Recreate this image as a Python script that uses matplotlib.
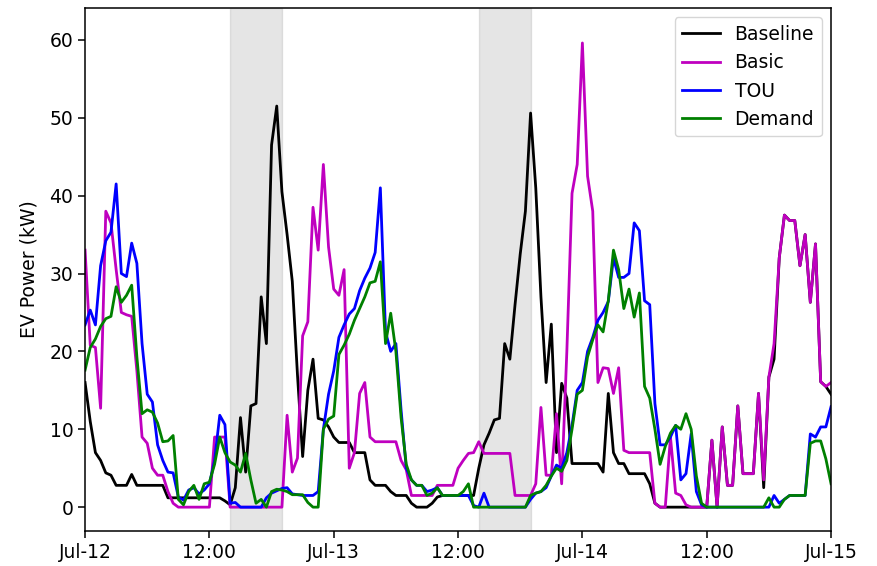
import matplotlib
matplotlib.use('Agg')
import matplotlib.pyplot as plt
import matplotlib.dates as mdates
import pandas as pd

# half-hourly EV charging power (kW), Jul-12 00:00 to Jul-15 00:00
times = pd.date_range('2018-07-12 00:00', '2018-07-15 00:00', freq='30min')

baseline = [16, 11, 7, 6, 4.4, 4.1, 2.8, 2.8, 2.8, 4.2, 2.8, 2.8,
            2.8, 2.8, 2.8, 2.8, 1.2, 1.2, 1.2, 1.2, 1.2, 1.2, 1.2, 1.2,
            1.2, 1.2, 1.2, 0.8, 0.3, 2.5, 11.5, 4.5, 13, 13.3, 27, 21,
            46.5, 51.5, 40.5, 35, 29, 17, 6.5, 15, 19, 11.4, 11.2, 10.3,
            9, 8.3, 8.3, 8.3, 7, 7, 7, 3.5, 2.8, 2.8, 2.8, 2,
            1.5, 1.5, 1.5, 0.5, 0, 0, 0, 0.5, 1.3, 1.5, 1.5, 1.5,
            1.5, 1.5, 1.5, 1.5, 5, 8, 9.5, 11.2, 11.4, 21, 19, 26,
            32.5, 38, 50.6, 41, 27, 16, 23.5, 7, 15.9, 14, 5.6, 5.6,
            5.6, 5.6, 5.6, 5.6, 4.5, 14.6, 7, 5.6, 5.6, 4.3, 4.3, 4.3,
            4.3, 3, 0.5, 0, 0, 0, 0, 0, 0, 0, 0, 0,
            0, 8.6, 0, 10.3, 2.8, 2.8, 13, 4.3, 4.3, 4.3, 14.6, 2.5,
            16.7, 19, 32, 37.5, 36.8, 36.8, 31, 35, 26.3, 33.8, 16.1, 15.5,
            14.5]

basic = [33, 20.8, 20.5, 12.7, 38, 36.5, 30.5, 25, 24.7, 24.5, 17.5, 9,
         8.2, 5, 4.1, 4.1, 2, 0.5, 0, 0, 0, 0, 0, 0,
         0, 9, 9, 9, 0, 0, 0, 0, 0, 0, 0, 0,
         0, 0, 0, 11.8, 4.5, 6.3, 22, 23.8, 38.5, 33, 44, 33.4,
         28, 27.2, 30.5, 5, 7, 14.6, 16, 9, 8.4, 8.4, 8.4, 8.4,
         8.4, 6, 4.8, 1.5, 1.5, 1.5, 1.5, 1.5, 2.8, 2.8, 2.8, 2.8,
         5, 6, 6.9, 7, 8.4, 6.9, 6.9, 6.9, 6.9, 6.9, 6.9, 1.5,
         1.5, 1.5, 1.5, 3, 12.8, 4.1, 4.1, 12, 3, 20, 40.3, 44,
         59.6, 42.5, 38, 16, 17.9, 17.8, 14.6, 17.9, 7.3, 7, 7, 7,
         7, 7, 0.5, 0, 0, 9, 1.8, 1.5, 0.3, 0, 0, 0,
         0, 8.6, 0, 10.3, 2.8, 2.8, 13, 4.3, 4.3, 4.3, 14.6, 3.5,
         16.7, 21, 32, 37.5, 36.8, 36.8, 31, 35, 26.3, 33.8, 16.1, 15.5,
         16]

tou = [23.4, 25.3, 23.4, 31, 34.2, 35.3, 41.5, 30, 29.6, 33.9, 31.3, 21,
       14.5, 13.5, 8, 6, 4.5, 4.4, 1.3, 0.9, 2.2, 2.5, 1.7, 2.2,
       3, 6, 11.8, 10.6, 0.5, 0.6, 0, 0, 0, 0, 0, 1.2,
       1.8, 2.1, 2.4, 2.5, 1.7, 1.6, 1.5, 1.5, 1.5, 2, 10, 14.5,
       17.5, 21.8, 23.4, 24.8, 25.5, 27.8, 29.4, 30.7, 32.7, 41, 22.5, 20,
       21, 12.5, 5, 3.5, 2.8, 2.8, 2, 2.2, 2.5, 1.5, 1.5, 1.5,
       1.5, 1.5, 1.5, 0.2, 0, 1.8, 0, 0, 0, 0, 0, 0,
       0, 0, 1, 1.8, 2, 2.5, 4, 5.4, 5, 7, 10.5, 15,
       16, 20, 21.8, 24, 25, 26.4, 32, 29.5, 29.5, 30, 36.5, 35.5,
       26.5, 26, 13.3, 8, 8, 9, 10.5, 3.5, 4.3, 9.4, 2, 0.3,
       0, 0, 0, 0, 0, 0, 0, 0, 0, 0, 0, 0,
       0, 1.5, 0.5, 1, 1.5, 1.5, 1.5, 1.5, 9.4, 9, 10.3, 10.3,
       12.9]

demand = [17.6, 20.5, 21.6, 23.2, 24.2, 24.5, 28.3, 26.3, 27.2, 28.5, 19.3, 12,
          12.5, 12.2, 10.8, 8.4, 8.5, 9.2, 1, 0.3, 2, 2.8, 1, 3,
          3.2, 5.5, 9, 7, 5.8, 5.4, 4.5, 6.9, 3.5, 0.5, 1, 0,
          2, 2.3, 2.2, 2, 1.6, 1.6, 1.6, 0.6, 0, 0, 10, 11.3,
          11.7, 19.6, 20.8, 22.2, 24, 25.5, 27, 28.8, 29, 31.5, 21, 24.9,
          20, 11.5, 5.5, 3.5, 2.8, 2.8, 1.5, 1.8, 2.5, 1.5, 1.5, 1.5,
          1.5, 2, 3, 0, 0, 0, 0, 0, 0, 0, 0, 0,
          0, 0, 1.5, 1.8, 2, 2.8, 4, 5, 4.6, 6, 10, 14.5,
          15, 19.3, 21.5, 23.4, 22.5, 26.5, 33, 30.5, 25.5, 28, 24.4, 27.5,
          15.5, 14, 10, 5.5, 7.8, 9.5, 10.5, 10, 12, 10, 4, 0.5,
          0, 0, 0, 0, 0, 0, 0, 0, 0, 0, 0, 0,
          1.2, 0, 0, 1, 1.5, 1.5, 1.5, 1.5, 8.2, 8.5, 8.5, 6.2,
          3]

# peak windows
peaks = [('2018-07-12 14:00', '2018-07-12 19:00'),
         ('2018-07-13 14:00', '2018-07-13 19:00')]

plt.rcParams['font.size'] = 13.5

fig, ax = plt.subplots(figsize=(8.77, 5.66), dpi=100)
fig.subplots_adjust(left=0.097, right=0.9476, top=0.986, bottom=0.062)

for start, end in peaks:
    ax.axvspan(pd.Timestamp(start), pd.Timestamp(end), color='gray', alpha=0.2)

ax.plot(times, baseline, color='k', lw=2, label='Baseline')
ax.plot(times, basic, color='m', lw=2, label='Basic')
ax.plot(times, tou, color='b', lw=2, label='TOU')
ax.plot(times, demand, color='g', lw=2, label='Demand')

ax.set_xlim(times[0], times[-1])
ax.set_ylim(-3.05, 64.1)
ax.set_ylabel('EV Power (kW)', labelpad=7.5)

ax.xaxis.set_major_locator(mdates.HourLocator(byhour=[0, 12]))


def fmt(x, pos):
    d = mdates.num2date(x)
    return d.strftime('%b-%d') if d.hour == 0 else d.strftime('%H:%M')


ax.xaxis.set_major_formatter(plt.FuncFormatter(fmt))
ax.tick_params(length=5, width=1.1)
for s in ax.spines.values():
    s.set_linewidth(1.1)

ax.legend(loc='upper right')

fig.savefig('out.png')
